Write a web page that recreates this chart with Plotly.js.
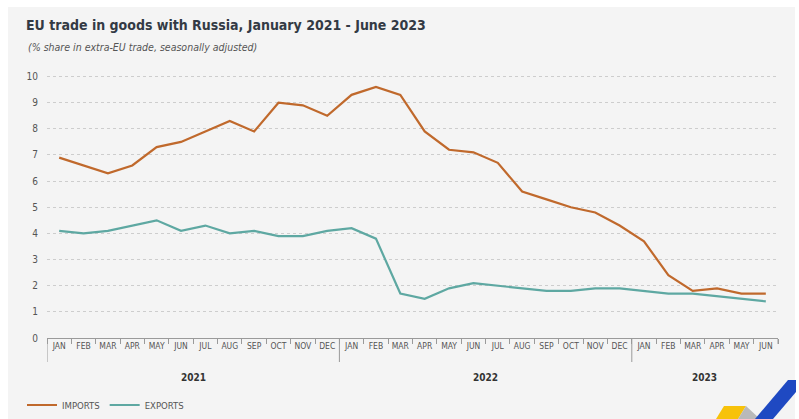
<!DOCTYPE html>
<html>
<head>
<meta charset="utf-8">
<script src="https://cdn.plot.ly/plotly-3.0.1.min.js"></script>
<style>
html,body{margin:0;padding:0;background:#fff;}
#chart{width:799px;height:419px;}
</style>
</head>
<body>
<div id="chart"></div>
<script>
// ---- data ----
const years = ["2021","2021","2021","2021","2021","2021","2021","2021","2021","2021","2021","2021",
               "2022","2022","2022","2022","2022","2022","2022","2022","2022","2022","2022","2022",
               "2023","2023","2023","2023","2023","2023"];
const months = ["JAN","FEB","MAR","APR","MAY","JUN","JUL","AUG","SEP","OCT","NOV","DEC",
                "JAN","FEB","MAR","APR","MAY","JUN","JUL","AUG","SEP","OCT","NOV","DEC",
                "JAN","FEB","MAR","APR","MAY","JUN"];
const imports = [6.9,6.6,6.3,6.6,7.3,7.5,7.9,8.3,7.9,9.0,8.9,8.5,
                 9.3,9.6,9.3,7.9,7.2,7.1,6.7,5.6,5.3,5.0,4.8,4.3,
                 3.7,2.4,1.8,1.9,1.7,1.7];
const exports_ = [4.1,4.0,4.1,4.3,4.5,4.1,4.3,4.0,4.1,3.9,3.9,4.1,
                  4.2,3.8,1.7,1.5,1.9,2.1,2.0,1.9,1.8,1.8,1.9,1.9,
                  1.8,1.7,1.7,1.6,1.5,1.4];
const yTicks = [0,1,2,3,4,5,6,7,8,9,10];
const yearLabels = ["2021","2022","2023"];

// category keys built from the arrays above
const cats = months.map((m, i) => years[i] + " " + m);

const FONT = '"Liberation Sans Narrow","DejaVu Sans Condensed","Roboto",sans-serif';
const IMP = '#c0692c';
const EXP = '#5ea8a2';
const AX = '#9a9a9a';

// pixel helpers for decorative shapes (paper coords)
const L = 47, R = 778, T = 70, B = 338;
const px = v => (v - L) / (R - L);
const py = v => (B - v) / (B - T);

const traces = [
  {x:cats, y:imports, type:'scatter', mode:'lines', name:'IMPORTS',
   line:{color:IMP, width:2.2}},
  {x:cats, y:exports_, type:'scatter', mode:'lines', name:'EXPORTS',
   line:{color:EXP, width:2.2}}
];

const annotations = [
  {text:'<i>(% share in extra-EU trade, seasonally adjusted)</i>', xref:'paper', yref:'paper',
   x:px(26), y:py(47), xanchor:'left', yanchor:'middle', showarrow:false,
   font:{family:FONT, size:10.5, color:'#555'}}
];
const shapes = [
  {type:'rect', xref:'paper', yref:'paper', layer:'below',
   x0:px(8), x1:px(795), y0:py(7), y1:py(419), fillcolor:'#f4f4f4', line:{width:0}}
];
yearLabels.forEach(yr => {
  const first = years.indexOf(yr), last = years.lastIndexOf(yr);
  annotations.push({text:'<b>' + yr + '</b>', xref:'x', yref:'paper',
    x:(first + last) / 2, y:py(377), xanchor:'center', yanchor:'middle', showarrow:false,
    font:{family:FONT, size:10, color:'#333'}});
  shapes.push({type:'line', xref:'x', yref:'paper', x0:first - 0.5, x1:first - 0.5,
    y0:py(338), y1:py(362), line:{color:AX, width:1}});
  if (last === years.length - 1) {
    shapes.push({type:'line', xref:'x', yref:'paper', x0:last + 0.5, x1:last + 0.5,
      y0:py(338), y1:py(344), line:{color:AX, width:1}});
  }
});

// logo decoration
shapes.push(
  {type:'path', xref:'paper', yref:'paper', layer:'above',
   path:`M ${px(716)} ${py(419)} L ${px(724)} ${py(406)} L ${px(746)} ${py(406)} L ${px(738)} ${py(419)} Z`,
   fillcolor:'#f7c20a', line:{width:0}},
  {type:'path', xref:'paper', yref:'paper', layer:'above',
   path:`M ${px(738)} ${py(419)} L ${px(746)} ${py(406)} L ${px(760)} ${py(419)} Z`,
   fillcolor:'#b9b9b9', line:{width:0}},
  {type:'path', xref:'paper', yref:'paper', layer:'above',
   path:`M ${px(755)} ${py(419)} L ${px(788)} ${py(380)} L ${px(796)} ${py(380)} L ${px(796)} ${py(392)} L ${px(773)} ${py(419)} Z`,
   fillcolor:'#1f49c2', line:{width:0}}
);

const layout = {
  width:799, height:419,
  margin:{l:L, r:799-R, t:T, b:419-B},
  paper_bgcolor:'#ffffff',
  plot_bgcolor:'rgba(0,0,0,0)',
  font:{family:FONT, color:'#444'},
  showlegend:true,
  legend:{orientation:'h', xref:'container', yref:'container',
          x:22/799, y:(419-405)/419, xanchor:'left', yanchor:'middle',
          font:{family:FONT, size:9.5, color:'#555'}, itemwidth:30,
          bgcolor:'rgba(0,0,0,0)', traceorder:'normal'},
  xaxis:{
    type:'category',
    range:[-0.5, 29.5],
    tickvals:cats, ticktext:months,
    tickson:'boundaries',
    tickangle:0,
    showgrid:false,
    showline:true, linecolor:AX, linewidth:1,
    ticks:'outside', ticklen:5, tickcolor:AX, tickwidth:1,
    tickfont:{family:FONT, size:8.5, color:'#555'},
    fixedrange:true
  },
  yaxis:{
    range:[0,10.25],
    tickvals:yTicks, ticktext:yTicks.map(String),
    showgrid:true, gridcolor:'#cdcdcd', griddash:'dot', gridwidth:1,
    zeroline:false, showline:false, ticks:'',
    ticklabelstandoff:8,
    tickfont:{family:FONT, size:10, color:'#555'},
    fixedrange:true
  },
  title:{text:'<b>EU trade in goods with Russia, January 2021 - June 2023</b>',
         x:26/799, xanchor:'left', y:1-25/419, yanchor:'middle',
         font:{family:FONT, size:14, color:'#333a44'}},
  annotations:annotations,
  shapes:shapes
};

Plotly.newPlot('chart', traces, layout, {displayModeBar:false, staticPlot:true});
</script>
</body>
</html>
